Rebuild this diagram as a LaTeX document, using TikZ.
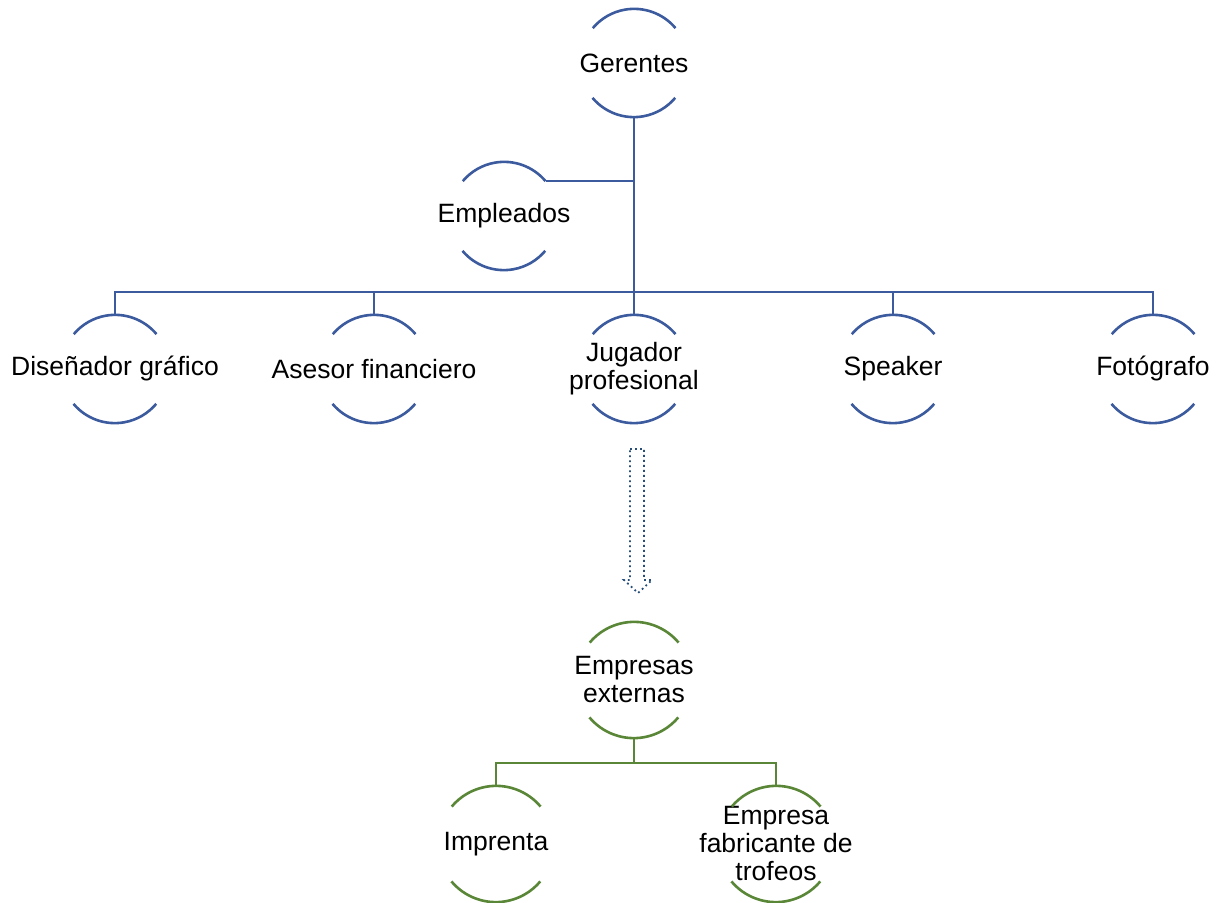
\documentclass[tikz,border=0pt]{standalone}
\usepackage{fontspec}
\setmainfont{Liberation Sans}
\definecolor{orgblue}{RGB}{59,91,158}
\definecolor{orggreen}{RGB}{90,135,55}
\definecolor{arrowblue}{RGB}{38,78,120}
\begin{document}
\begin{tikzpicture}[x=1bp,y=1bp,
  ring/.style={circle, minimum size=108bp, inner sep=0pt},
  ringL/.style={circle, minimum size=116bp, inner sep=0pt},
  every label/.style={font=\fontsize{26.5bp}{28bp}\selectfont, align=center, inner sep=0pt, text=black},
  blueline/.style={draw=orgblue, line width=2.6bp},
  greenline/.style={draw=orggreen, line width=2.6bp},
  blockarrow/.style={draw=arrowblue, line width=1.8bp, dash pattern=on 1.8bp off 3.2bp, line join=miter}
]
\useasboundingbox (0,0) rectangle (1227,903);

% nodes
\node[ring, label=center:{Gerentes}] (g) at (634,840) {};
\node[ring, label=center:{Empleados}] (emp) at (504,687) {};
\node[ring, label=center:{Diseñador gráfico}] (dis) at (115,534) {};
\node[ring, label=center:{Asesor financiero}] (ase) at (374,534) {};
\node[ring, label=center:{Jugador\\profesional}] (jug) at (634,534) {};
\node[ring, label=center:{Speaker}] (spk) at (893,534) {};
\node[ring, label=center:{Fotógrafo}] (fot) at (1153,534) {};
\node[ringL, label=center:{Empresas\\externas}] (ext) at (634,223) {};
\node[ringL, label=center:{Imprenta}] (imp) at (496,59) {};
\node[ringL, label=center:{Empresa\\fabricante de\\trofeos}] (fab) at (776,59) {};

% open circles (top and bottom arcs)
\foreach \n in {g,emp,dis,ase,jug,spk,fot}
  \draw[blueline] (\n.40) arc[start angle=40,end angle=140,radius=54bp]
                  (\n.220) arc[start angle=220,end angle=320,radius=54bp];
\foreach \n in {ext,imp,fab}
  \draw[greenline] (\n.40) arc[start angle=40,end angle=140,radius=58bp]
                   (\n.220) arc[start angle=220,end angle=320,radius=58bp];

% blue connectors
\coordinate (bus) at (634,611);
\draw[blueline] (g.south) -- (jug.north);
\draw[blueline] (emp.40) -- (emp.40 -| g.south);
\draw[blueline] (dis.north) |- (bus) -| (fot.north);
\draw[blueline] (ase.north) -- (ase.north |- bus);
\draw[blueline] (spk.north) -- (spk.north |- bus);

% green connectors
\coordinate (bus2) at (634,140);
\draw[greenline] (ext.south) -- (bus2);
\draw[greenline] (imp.north) |- (bus2) -| (fab.north);

% dotted block arrow
\draw[blockarrow] (630,454) -- (644,454) -- (644,323) -- (652,323) -- (638,310)
  -- (624,323) -- (630,323) -- cycle;
\end{tikzpicture}
\end{document}
